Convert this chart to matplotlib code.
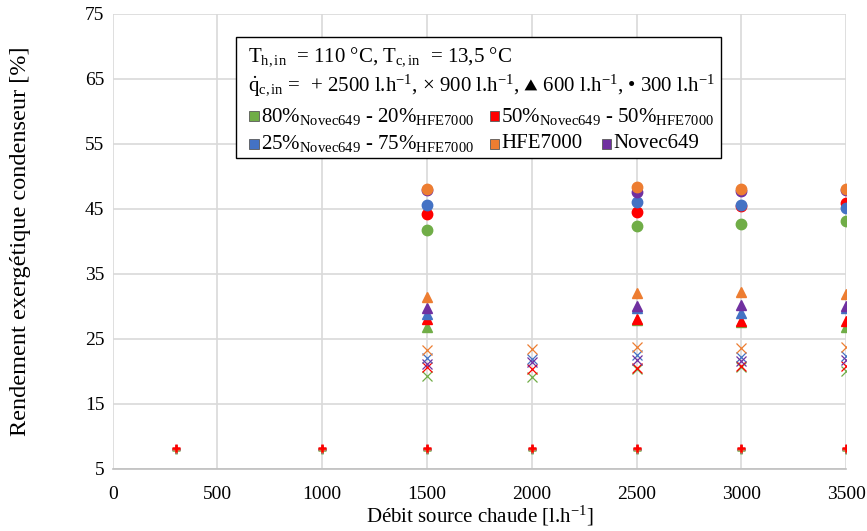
import matplotlib
matplotlib.use("Agg")
from matplotlib import pyplot as plt
from matplotlib.patches import Rectangle

plt.rcParams['font.family'] = ['Liberation Serif', 'DejaVu Sans']
plt.rcParams['mathtext.fontset'] = 'custom'
plt.rcParams['mathtext.rm'] = 'Liberation Serif'
plt.rcParams['mathtext.it'] = 'Liberation Serif:italic'
plt.rcParams['mathtext.fallback'] = 'stix'

# couleurs des fluides
colors = {'80-20': '#70AD47', '50-50': '#FF0000', '25-75': '#4472C4',
          'Novec649': '#7030A0', 'HFE7000': '#ED7D31'}

# q_c,in = 2500 l/h (+)
debit_plus = [300, 1000, 1500, 2000, 2500, 3000, 3500]
plus_8020 = [7.9, 7.9, 7.9, 7.9, 7.9, 7.9, 7.9]
plus_5050 = [8.2, 8.2, 8.2, 8.2, 8.2, 8.2, 8.2]
plus_2575 = [8.0, 8.0, 8.0, 8.0, 8.0, 8.0, 8.0]
plus_novec = [8.0, 8.0, 8.0, 8.0, 8.0, 8.0, 8.0]
plus_hfe = [8.0, 8.0, 8.0, 8.0, 8.0, 8.0, 8.0]

# q_c,in = 900 l/h (x)
debit_cross = [1500, 2000, 2500, 3000, 3500]
cross_8020 = [19.3, 19.1, 20.3, 20.6, 20.1]
cross_5050 = [20.7, 20.4, 20.5, 20.8, 20.8]
cross_2575 = [22.0, 21.9, 22.5, 22.2, 22.3]
cross_novec = [21.2, 21.4, 21.7, 21.6, 21.8]
cross_hfe = [23.3, 23.5, 23.7, 23.6, 23.7]

# q_c,in = 600 l/h (triangle)
debit_tri = [1500, 2500, 3000, 3500]
tri_8020 = [26.9, 27.9, 27.6, 26.9]
tri_5050 = [28.0, 28.0, 27.7, 27.7]
tri_2575 = [28.9, 29.8, 29.0, 29.7]
tri_novec = [29.8, 30.0, 30.2, 30.0]
tri_hfe = [31.5, 32.0, 32.2, 31.9]

# q_c,in = 300 l/h (rond)
debit_circ = [1500, 2500, 3000, 3500]
circ_8020 = [41.7, 42.3, 42.6, 43.2]
circ_5050 = [44.2, 44.5, 45.5, 45.9]
circ_2575 = [45.6, 46.0, 45.6, 45.2]
circ_novec = [47.9, 47.6, 47.8, 47.9]
circ_hfe = [48.1, 48.4, 48.1, 48.1]

fig = plt.figure(figsize=(8.67, 5.31), dpi=100)
ax = fig.add_axes([0.130, 0.117, 0.846, 0.857])

circ = {'80-20': circ_8020, '50-50': circ_5050, '25-75': circ_2575,
        'Novec649': circ_novec, 'HFE7000': circ_hfe}
tri = {'80-20': tri_8020, '50-50': tri_5050, '25-75': tri_2575,
       'Novec649': tri_novec, 'HFE7000': tri_hfe}
cross = {'80-20': cross_8020, '50-50': cross_5050, '25-75': cross_2575,
         'Novec649': cross_novec, 'HFE7000': cross_hfe}
plus = {'80-20': plus_8020, '50-50': plus_5050, '25-75': plus_2575,
        'Novec649': plus_novec, 'HFE7000': plus_hfe}

for f in ['80-20', '50-50', '25-75', 'Novec649', 'HFE7000']:
    ax.plot(debit_circ, circ[f], 'o', ms=7.5, color=colors[f], zorder=3)
    ax.plot(debit_tri, tri[f], '^', ms=7.5, color=colors[f], zorder=3)
    ax.plot(debit_cross, cross[f], 'x', ms=7, mew=0.9, color=colors[f], zorder=3)
for f in ['80-20', 'Novec649', '25-75', 'HFE7000', '50-50']:
    ax.plot(debit_plus, plus[f], '+', ms=6, mew=1.8, color=colors[f], zorder=3)

ax.set_xlim(0, 3500)
ax.set_ylim(5, 75)
ax.set_xticks(range(0, 3501, 500))
ax.set_yticks(range(5, 76, 10))
ax.grid(True, color='#D9D9D9', lw=1.2)
ax.set_axisbelow(True)
for s in ['top', 'right', 'left']:
    ax.spines[s].set_visible(False)
ax.spines['bottom'].set_color('#BFBFBF')
ax.spines['bottom'].set_linewidth(1.2)
ax.tick_params(length=0, labelsize=14)
ax.tick_params(axis='x', pad=12)
ax.tick_params(axis='y', pad=6)

ax.set_xlabel(r'Débit source chaude [l.h$^{\mathrm{-1}}$]', fontsize=15, labelpad=1)
ax.set_ylabel('Rendement exergétique condenseur [%]', fontsize=17.5, labelpad=39)

# encadré de légende
ax.add_patch(Rectangle((0.168, 0.684), 0.661, 0.265, transform=ax.transAxes,
                       facecolor='white', edgecolor='black', lw=1, zorder=5))
fs = 15
ax.text(0.184, 0.905, r'T$_{\mathrm{h,in}}$  = 110 °C, T$_{\mathrm{c,in}}$  = 13,5 °C',
        transform=ax.transAxes, fontsize=fs, va='center', zorder=6)
ax.text(0.184, 0.843, r'$\dot{\mathrm{q}}_{\mathrm{c,in}}$ =  '
        r'+ 2500 l.h$^{\mathrm{-1}}$, × 900 l.h$^{\mathrm{-1}}$, '
        r'$\blacktriangle$ 600 l.h$^{\mathrm{-1}}$, • 300 l.h$^{\mathrm{-1}}$',
        transform=ax.transAxes, fontsize=fs, va='center', zorder=6)

entries = [
    (0.186, 0.775, '80-20', r'80%$_{\mathrm{Novec649}}$ - 20%$_{\mathrm{HFE7000}}$'),
    (0.514, 0.775, '50-50', r'50%$_{\mathrm{Novec649}}$ - 50%$_{\mathrm{HFE7000}}$'),
    (0.186, 0.714, '25-75', r'25%$_{\mathrm{Novec649}}$ - 75%$_{\mathrm{HFE7000}}$'),
    (0.514, 0.714, 'HFE7000', 'HFE7000'),
    (0.667, 0.714, 'Novec649', 'Novec649'),
]
for x, y, f, label in entries:
    ax.add_patch(Rectangle((x, y - 0.011), 0.013, 0.022, transform=ax.transAxes,
                           facecolor=colors[f], edgecolor='#595959', lw=0.6, zorder=6))
    ax.text(x + 0.016, y, label, transform=ax.transAxes, fontsize=fs,
            va='center', zorder=6)

fig.savefig('out.png', dpi=100)
